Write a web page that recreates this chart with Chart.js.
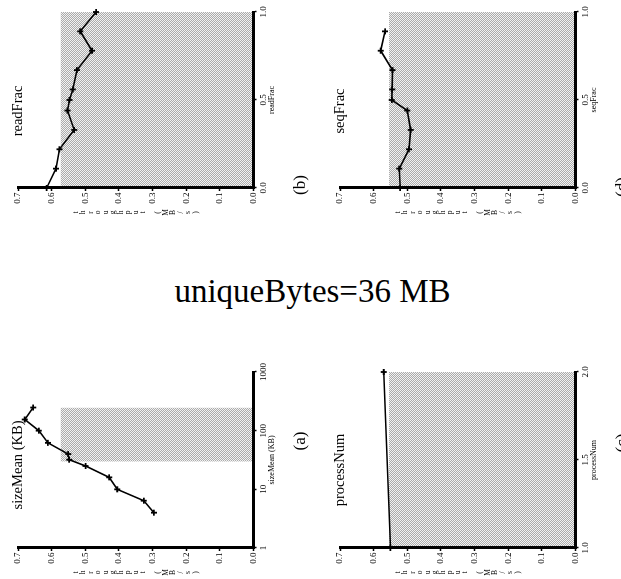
<!DOCTYPE html>
<html><head><meta charset="utf-8">
<script src="https://cdn.jsdelivr.net/npm/chart.js@4"></script>
<style>
html,body{margin:0;padding:0;background:#fff;width:621px;height:579px;overflow:hidden;}
body{position:relative;}
.panel{position:absolute;transform-origin:0 0;background:transparent;}
#main{position:absolute;left:0;top:275px;width:625px;text-align:center;font-family:'Liberation Serif','Times New Roman',serif;font-size:33px;line-height:33px;color:#000;white-space:nowrap;}
</style></head><body>
<canvas id="pb" class="panel" width="240" height="310"></canvas>
<canvas id="pd" class="panel" width="240" height="310"></canvas>
<canvas id="pa" class="panel" width="240" height="310"></canvas>
<canvas id="pc" class="panel" width="240" height="310"></canvas>
<div id="main">uniqueBytes=36 MB</div>
<script>
// ---- data ----
const figureTitle = 'uniqueBytes=36 MB';
const yAxisTitle = 'throughput (MB/s)';
const throughputTicks = [0, 0.1, 0.2, 0.3, 0.4, 0.5, 0.6, 0.7];

const readFracX = [0.0, 0.11, 0.22, 0.33, 0.44, 0.50, 0.56, 0.67, 0.78, 0.89, 1.0];
const readFracY = [0.615, 0.587, 0.577, 0.533, 0.553, 0.547, 0.537, 0.525, 0.480, 0.515, 0.468];
const readFracTicks = [0, 0.5, 1.0];
const readFracShade = [0, 1.0];
const readFracThreshold = 0.573;

const seqFracX = [0.0, 0.11, 0.22, 0.33, 0.44, 0.50, 0.56, 0.67, 0.78, 0.89];
const seqFracY = [0.521, 0.524, 0.495, 0.490, 0.500, 0.546, 0.545, 0.544, 0.579, 0.566];
const seqFracTicks = [0, 0.5, 1.0];
const seqFracShade = [0, 1.0];
const seqFracThreshold = 0.554;

const sizeMeanX = [4, 6.4, 10, 16, 25, 32, 40, 62, 100, 155, 248];
const sizeMeanY = [0.296, 0.326, 0.405, 0.429, 0.499, 0.548, 0.551, 0.611, 0.638, 0.680, 0.655];
const sizeMeanTicks = [1, 10, 100, 1000];
const sizeMeanShade = [29.6, 248];
const sizeMeanThreshold = 0.573;

const processNumX = [1, 2];
const processNumY = [0.550, 0.570];
const processNumTicks = [1.0, 1.5, 2.0];
const processNumShade = [1, 2];
const processNumThreshold = 0.554;

// ---- rendering ----
const FONT = "'Liberation Serif','Times New Roman',serif";
Chart.defaults.font.family = FONT;
Chart.defaults.color = '#000';

function makePattern() {
  const c = document.createElement('canvas');
  c.width = 2; c.height = 2;
  const g = c.getContext('2d');
  g.fillStyle = '#f2f2f2'; g.fillRect(0, 0, 2, 2);
  g.fillStyle = '#ababab'; g.fillRect(0, 0, 1, 1); g.fillRect(1, 1, 1, 1);
  return g.createPattern(c, 'repeat');
}
const shadePattern = makePattern();

const annot = {
  id: 'annot',
  afterDraw(chart, args, o) {
    const ctx = chart.ctx, a = chart.chartArea;
    ctx.save();
    ctx.fillStyle = '#000';
    ctx.textAlign = 'center';
    ctx.textBaseline = 'alphabetic';
    ctx.font = '14.5px ' + FONT;
    ctx.fillText(o.title, o.titleU, o.titleV);
    ctx.textBaseline = 'middle';
    ctx.font = '17px ' + FONT;
    ctx.fillText(o.label, o.labelU, o.labelV);
    ctx.font = '7.5px ' + FONT;
    const chars = Array.from(o.yTitle);
    const step = 7.5, mid = (a.top + a.bottom) / 2;
    chars.forEach((ch, i) => ctx.fillText(ch, o.yTitleU, mid + (i - (chars.length - 1) / 2) * step));
    ctx.restore();
  }
};

function placePanel(el, L, T) {
  const W = el.width;
  el.style.left = L + 'px';
  el.style.top = T + 'px';
  el.style.transform = 'translate(0px,' + W + 'px) rotate(-90deg)';
}

function makePanel(id, L, T, p) {
  const el = document.getElementById(id);
  placePanel(el, L, T);
  const pts = p.x.map((v, i) => ({x: v, y: p.y[i]}));
  const shade = [{x: p.shade[0], y: p.thr}, {x: p.shade[1], y: p.thr}];
  return new Chart(el, {
    type: 'line',
    data: {datasets: [
      {data: pts, borderColor: '#000', borderWidth: 1.6, pointStyle: 'cross', pointRadius: 3,
       pointBorderWidth: 1.8, pointBorderColor: '#000', pointBackgroundColor: '#000',
       fill: false, tension: 0, clip: false},
      {data: shade, borderWidth: 0, pointRadius: 0, fill: 'origin', backgroundColor: shadePattern, tension: 0}
    ]},
    options: {
      responsive: false, animation: false, devicePixelRatio: 1,
      layout: {padding: {left: 0, right: 12, top: 18, bottom: 34.5}},
      plugins: {
        legend: {display: false}, tooltip: {enabled: false}, title: {display: false},
        annot: {title: p.title, titleU: p.titleU, titleV: 22, label: p.label, labelU: p.labelU, labelV: 300.5,
                yTitle: yAxisTitle, yTitleU: 27.5}
      },
      scales: {
        x: {
          type: p.log ? 'logarithmic' : 'linear', position: 'bottom',
          min: p.ticks[0], max: p.ticks[p.ticks.length - 1],
          afterBuildTicks: s => { s.ticks = p.ticks.map(v => ({value: v})); },
          afterFit: s => { s.height = 22; s.paddingLeft = 0; s.paddingRight = 0; s.paddingTop = 0; s.paddingBottom = 0; },
          ticks: {callback: p.fmt, font: {size: 9}, color: '#000', padding: 2, maxRotation: 0, minRotation: 0, autoSkip: false},
          grid: {drawOnChartArea: false, tickLength: 3, tickWidth: 1.5, tickColor: '#000', z: 1},
          border: {display: true, width: 3, color: '#000', z: 2},
          title: {display: true, text: p.xTitle, font: {size: 8, lineHeight: 1}, padding: 0, color: '#000'}
        },
        y: {
          type: 'linear', position: 'left', min: 0, max: 0.7,
          afterBuildTicks: s => { s.ticks = throughputTicks.map(v => ({value: v})); },
          afterFit: s => { s.width = 52; s.paddingLeft = 0; s.paddingRight = 0; s.paddingTop = 0; s.paddingBottom = 0; },
          ticks: {callback: v => Number(v).toFixed(1), font: {size: 9}, color: '#000', padding: 1.5, autoSkip: false},
          grid: {drawOnChartArea: false, tickLength: 3, tickWidth: 1.5, tickColor: '#000', z: 1},
          border: {display: true, width: 3, color: '#000', z: 2}
        }
      }
    },
    plugins: [annot]
  });
}

const fmt1 = v => Number(v).toFixed(1);
const fmtLog = v => String(Number(v));

makePanel('pb', 0, 0, {x: readFracX, y: readFracY, ticks: readFracTicks, shade: readFracShade, thr: readFracThreshold,
  fmt: fmt1, xTitle: 'readFrac', title: 'readFrac', titleU: 129, label: '(b)', labelU: 55});
makePanel('pd', 322, 0, {x: seqFracX, y: seqFracY, ticks: seqFracTicks, shade: seqFracShade, thr: seqFracThreshold,
  fmt: fmt1, xTitle: 'seqFrac', title: 'seqFrac', titleU: 129, label: '(d)', labelU: 53});
makePanel('pa', 0, 360, {x: sizeMeanX, y: sizeMeanY, ticks: sizeMeanTicks, shade: sizeMeanShade, thr: sizeMeanThreshold,
  log: true, fmt: fmtLog, xTitle: 'sizeMean (KB)', title: 'sizeMean (KB)', titleU: 135, label: '(a)', labelU: 159});
makePanel('pc', 322, 360, {x: processNumX, y: processNumY, ticks: processNumTicks, shade: processNumShade, thr: processNumThreshold,
  fmt: fmt1, xTitle: 'processNum', title: 'processNum', titleU: 130, label: '(c)', labelU: 157});
document.getElementById('main').textContent = figureTitle;
</script>
</body></html>
